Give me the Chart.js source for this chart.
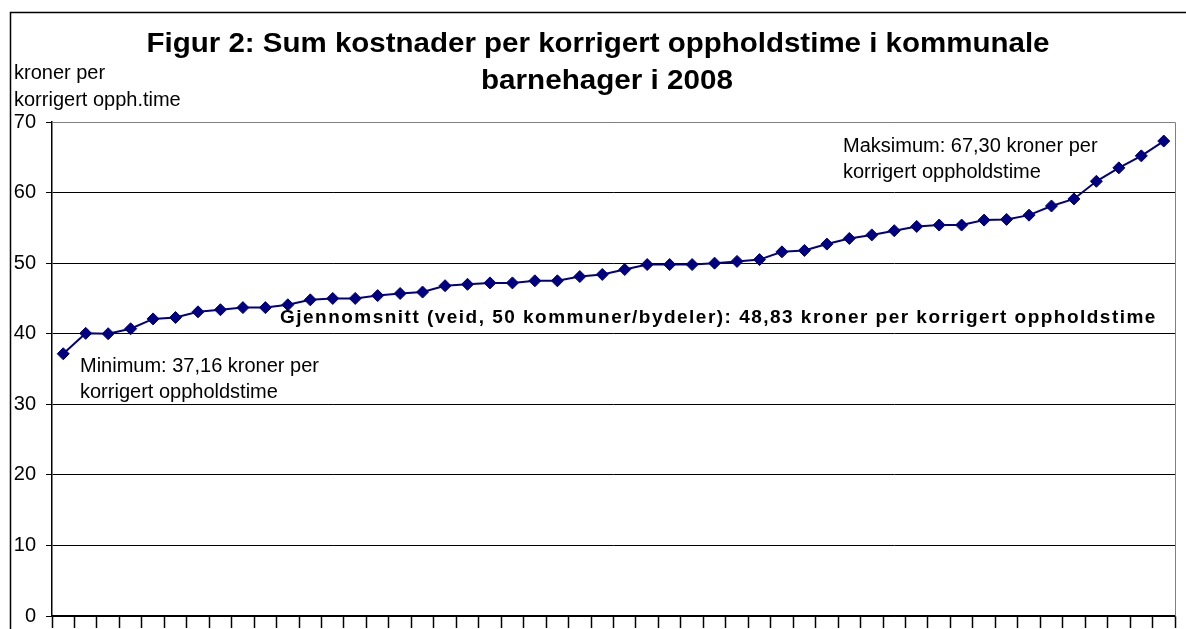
<!DOCTYPE html>
<html>
<head>
<meta charset="utf-8">
<script src="https://cdn.jsdelivr.net/npm/chart.js@4"></script>
<style>
  html, body { margin: 0; padding: 0; background: #fff; }
  #wrap { width: 1186px; height: 629px; position: relative; }
</style>
</head>
<body>
<div id="wrap"><canvas id="chart" width="1186" height="629"></canvas></div>
<script>
// Kostnader per korrigert oppholdstime, sortert stigende (50 kommuner/bydeler)
const kategorier = Array.from({ length: 50 }, (_, i) => String(i + 1));
const kostnader = [
  37.16, 40.05, 40.0, 40.7, 42.1, 42.3, 43.1, 43.4, 43.7, 43.7,
  44.1, 44.8, 45.0, 45.0, 45.4, 45.7, 45.9, 46.8, 47.0, 47.2,
  47.2, 47.5, 47.5, 48.1, 48.4, 49.1, 49.8, 49.8, 49.8, 50.0,
  50.25, 50.5, 51.6, 51.8, 52.7, 53.5, 54.0, 54.6, 55.2, 55.4,
  55.4, 56.1, 56.2, 56.8, 58.1, 59.1, 61.6, 63.5, 65.2, 67.3
];
const yTicks = [0, 10, 20, 30, 40, 50, 60, 70];

const tittel = ['Figur 2: Sum kostnader per korrigert oppholdstime i kommunale', 'barnehager i 2008'];
const aksetittel = ['kroner per', 'korrigert opph.time'];
const minTekst = ['Minimum: 37,16 kroner per', 'korrigert oppholdstime'];
const maksTekst = ['Maksimum: 67,30 kroner per', 'korrigert oppholdstime'];
const snittTekst = 'Gjennomsnitt (veid, 50 kommuner/bydeler): 48,83 kroner per korrigert oppholdstime';

const FONT = 'Arial, "Liberation Sans", sans-serif';

// skriver tekst med fast bredde (strekker litt horisontalt, som i Excel)
function tekstMedBredde(ctx, tekst, x, y, bredde, align) {
  const w = ctx.measureText(tekst).width;
  const sx = bredde / w;
  ctx.save();
  ctx.translate(x, y);
  ctx.scale(sx, 1);
  ctx.textAlign = align;
  ctx.fillText(tekst, 0, 0);
  ctx.restore();
}

// Tekster og ramme tegnes direkte på canvas
const tekstPlugin = {
  id: 'tekster',
  beforeDraw(chart) {
    const ctx = chart.ctx;
    ctx.save();
    ctx.fillStyle = '#fff';
    ctx.fillRect(0, 0, chart.width, chart.height);
    ctx.restore();
  },
  afterDraw(chart) {
    const ctx = chart.ctx;
    const area = chart.chartArea;
    ctx.save();

    // ytre ramme
    ctx.strokeStyle = '#000';
    ctx.lineWidth = 1.5;
    ctx.strokeRect(10.5, 12.5, chart.width + 20, chart.height + 20);

    // plotområdets ramme (topp og høyre)
    ctx.strokeStyle = '#808080';
    ctx.lineWidth = 1;
    ctx.beginPath();
    ctx.moveTo(area.left, area.top + 0.5);
    ctx.lineTo(area.right + 0.5, area.top + 0.5);
    ctx.lineTo(area.right + 0.5, area.bottom);
    ctx.stroke();

    ctx.fillStyle = '#000';
    ctx.textBaseline = 'middle';

    // tittel
    ctx.font = 'bold 27px ' + FONT;
    tekstMedBredde(ctx, tittel[0], 598, 45, 903, 'center');
    tekstMedBredde(ctx, tittel[1], 607, 82, 252, 'center');

    // aksetittel
    ctx.font = '20px ' + FONT;
    ctx.textAlign = 'left';
    ctx.fillText(aksetittel[0], 14, 73);
    ctx.fillText(aksetittel[1], 14, 100);

    // minimum / maksimum
    ctx.fillText(minTekst[0], 80, 366);
    ctx.fillText(minTekst[1], 80, 392);
    ctx.fillText(maksTekst[0], 843, 146);
    ctx.fillText(maksTekst[1], 843, 172);

    // gjennomsnitt
    ctx.font = 'bold 19px ' + FONT;
    const w = ctx.measureText(snittTekst).width;
    ctx.letterSpacing = ((877 - w) / snittTekst.length).toFixed(2) + 'px';
    ctx.fillText(snittTekst, 280, 318);
    ctx.restore();
  }
};

new Chart(document.getElementById('chart'), {
  type: 'line',
  data: {
    labels: kategorier,
    datasets: [{
      data: kostnader,
      borderColor: '#000080',
      backgroundColor: '#000080',
      borderWidth: 2,
      pointStyle: 'rectRot',
      pointRadius: 6,
      pointHoverRadius: 6,
      pointBorderWidth: 1,
      tension: 0,
      fill: false
    }]
  },
  options: {
    responsive: false,
    animation: false,
    events: [],
    layout: { padding: { top: 122, right: 11, left: 0, bottom: 0 } },
    plugins: {
      legend: { display: false },
      title: { display: false },
      tooltip: { enabled: false }
    },
    scales: {
      x: {
        type: 'category',
        offset: true,
        grid: {
          offset: true,
          drawOnChartArea: false,
          drawTicks: true,
          tickLength: 12,
          tickColor: '#000',
          tickWidth: 1.5
        },
        border: { display: true, color: '#000', width: 1.5 },
        ticks: { display: false },
        afterFit(scale) { scale.height = 13; }
      },
      y: {
        min: 0,
        max: 70,
        afterBuildTicks(scale) { scale.ticks = yTicks.map(v => ({ value: v })); },
        grid: {
          color: ctx => (ctx.tick && ctx.tick.value === 70) ? '#808080' : '#000',
          lineWidth: 1,
          drawTicks: true,
          tickLength: 6,
          tickColor: '#000'
        },
        border: { display: true, color: '#000', width: 1.5 },
        ticks: {
          color: '#000',
          padding: 10,
          font: { family: FONT, size: 20 }
        },
        afterFit(scale) {
          scale.width = 52;
          scale.paddingBottom = 0;
          scale.paddingTop = 0;
        }
      }
    }
  },
  plugins: [tekstPlugin]
});
</script>
</body>
</html>
